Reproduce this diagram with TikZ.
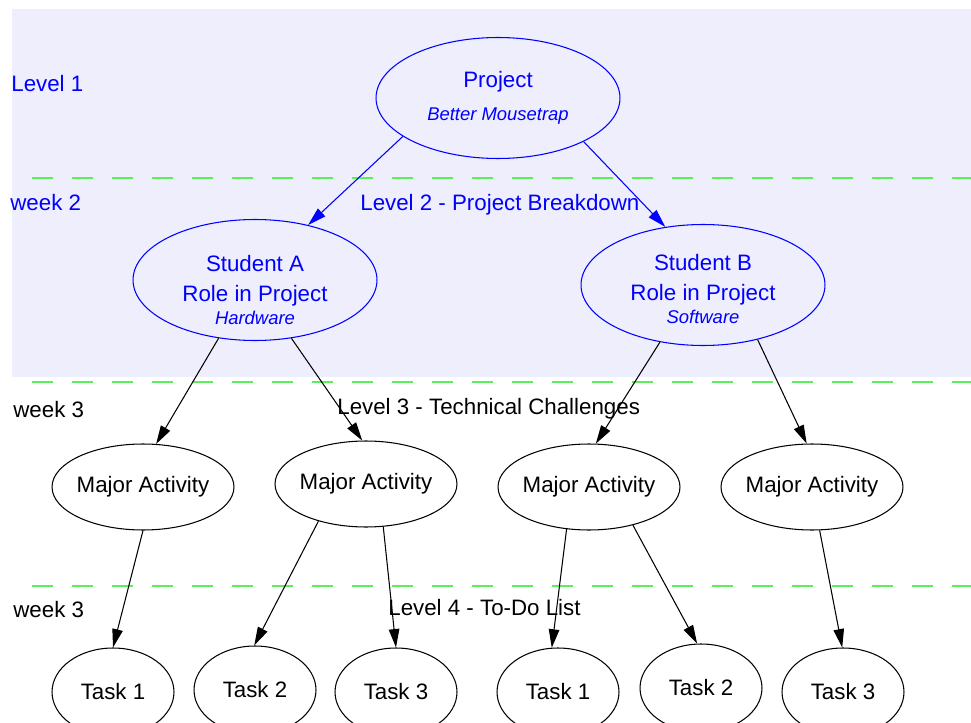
\documentclass[tikz,border=0pt]{standalone}
\usepackage{fontspec}
\setmainfont{Liberation Sans}
\usetikzlibrary{shapes.geometric,arrows.meta}
\definecolor{bandblue}{RGB}{238,238,252}
\definecolor{dashgreen}{RGB}{90,240,90}
\begin{document}
\begin{tikzpicture}[x=0.02cm,y=-0.02cm,
		font=\fontsize{12.7}{17}\selectfont,
		oval/.style={draw,ellipse,inner sep=0pt,line width=0.6pt},
		role/.style={oval,draw=blue,minimum width=4.88cm,minimum height=2.42cm},
		act/.style={oval,inner xsep=-2pt,minimum width=3.64cm,minimum height=1.72cm},
		task/.style={oval,minimum width=2.44cm,minimum height=1.76cm},
		lbl/.style={anchor=west,inner sep=0pt},
		sep/.style={dashgreen,line width=0.8pt,dash pattern=on 0.42cm off 0.38cm},
		tip/.style={line width=0.6pt,-{Triangle[length=10.5pt,width=6pt]}}]
		\useasboundingbox (0,0) rectangle (971,723);
		\fill[bandblue] (12,9) rectangle (971,377);
		\draw[sep] (32,178) -- (971,178);
		\draw[sep] (32,382) -- (971,382);
		\draw[sep] (32,586) -- (971,586);
		% level labels
		\node[lbl,blue] (lvl1) at (11,84) {Level 1};
		\node[lbl,blue] (wk2) at (10,203) {week 2};
		\node[lbl,blue] (lvl2) at (360,205) {Level 2 - Project Breakdown};
		\node[lbl] (wk3a) at (13,410) {week 3};
		\node[lbl] (lvl3) at (337,409) {Level 3 - Technical Challenges};
		\node[lbl] (wk3b) at (13,610) {week 3};
		\node[lbl] (lvl4) at (388,608) {Level 4 - To-Do List};
		% tree
		\node[role,blue,align=center] (proj) at (498,98) {Project\\[2pt]{\fontsize{10.5}{12}\selectfont\itshape Better Mousetrap}};
		\node[role] (sa) at (255,280) {};
		\node[blue,align=center] (saTxt) at (255,290) {Student A\\Role in Project\\[-4pt]{\fontsize{10.5}{12}\selectfont\itshape Hardware}};
		\node[role] (sb) at (703,285) {};
		\node[blue,align=center] (sbTxt) at (703,289) {Student B\\Role in Project\\[-4pt]{\fontsize{10.5}{12}\selectfont\itshape Software}};
		\node[act] (ma1) at (143,487) {Major Activity};
		\node[act] (ma2) at (366,484) {Major Activity};
		\node[act] (ma3) at (589,487) {Major Activity};
		\node[act] (ma4) at (812,487) {Major Activity};
		\node[task] (t1) at (113,692) {Task 1};
		\node[task] (t2) at (255,690) {Task 2};
		\node[task] (t3) at (396,692) {Task 3};
		\node[task] (t4) at (558,692) {Task 1};
		\node[task] (t5) at (701,688) {Task 2};
		\node[task] (t6) at (843,692) {Task 3};
		\draw[tip,blue] (proj.202) -- (sa.46);
		\draw[tip,blue] (proj.333) -- (sb.123);
		\draw[tip] (sa.238) -- (ma1.73);
		\draw[tip] (sa.302) -- (ma2.95);
		\draw[tip] (sb.233) -- (ma3.81);
		\draw[tip] (sb.315) -- (ma4.97);
		\draw[tip] (ma1.270) -- (t1.90);
		\draw[tip] (ma2.218) -- (t2.91);
		\draw[tip] (ma2.292) -- (t3.90);
		\draw[tip] (ma3.242) -- (t4.98);
		\draw[tip] (ma3.319) -- (t5.95);
		\draw[tip] (ma4.280) -- (t6.91);
	\end{tikzpicture}
\end{document}
